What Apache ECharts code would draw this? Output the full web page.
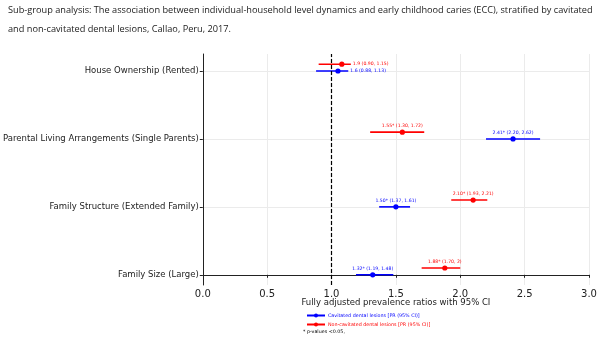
<!DOCTYPE html>
<html>
<head>
<meta charset="utf-8">
<script src="https://cdn.jsdelivr.net/npm/echarts@6/dist/echarts.min.js"></script>
<style>
  html, body { margin: 0; padding: 0; background: #fff; }
  #chart { width: 600px; height: 337px; }
</style>
</head>
<body>
<div id="chart"></div>
<script>
// rows from bottom (y=0) to top (y=3)
const categories = [
  "Family Size (Large)",
  "Family Structure (Extended Family)",
  "Parental Living Arrangements (Single Parents)",
  "House Ownership (Rented)"
];
const xTicks = [0, 0.5, 1, 1.5, 2, 2.5, 3];

const cavPR = [1.32, 1.50, 2.41, 1.05];
const cavLow = [1.19, 1.37, 2.20, 0.88];
const cavHigh = [1.48, 1.61, 2.62, 1.13];
const cavLabels = ["1.32* (1.19, 1.48)", "1.50* (1.37, 1.61)", "2.41* (2.20, 2.62)", "1.6 (0.88, 1.13)"];

const nonPR = [1.88, 2.10, 1.55, 1.08];
const nonLow = [1.70, 1.93, 1.30, 0.90];
const nonHigh = [2.00, 2.21, 1.72, 1.15];
const nonLabels = ["1.88* (1.70, 2)", "2.10* (1.93, 2.21)", "1.55* (1.30, 1.72)", "1.9 (0.90, 1.15)"];

const cavName = "Cavitated dental lesions [PR (95% CI)]";
const nonName = "Non-cavitated dental lesions [PR (95% CI)]";
const blue = "#0000ff";
const red = "#ff0000";
const sideLabelRow = 3; // house ownership labels sit right of the CI

function rows(pr, lo, hi, labels, shift) {
  return pr.map((v, i) => [v, i + shift, lo[i], hi[i], labels[i], i]);
}

function forestItem(color) {
  return function (params, api) {
    const y = api.value(1);
    const p = api.coord([api.value(0), y]);
    const a = api.coord([api.value(2), y]);
    const b = api.coord([api.value(3), y]);
    const row = api.value(5);
    const side = row === sideLabelRow;
    return {
      type: "group",
      children: [
        { type: "line", shape: { x1: a[0], y1: a[1], x2: b[0], y2: b[1] },
          style: { stroke: color, lineWidth: 1.6 } },
        { type: "circle", shape: { cx: p[0], cy: p[1], r: 2.6 },
          style: { fill: color } },
        { type: "text",
          x: side ? b[0] + 2 : p[0], y: side ? b[1] : p[1] - 4,
          style: { text: api.value(4), fill: color, fontSize: 4.6,
            fontFamily: "DejaVu Sans",
            align: side ? "left" : "center",
            verticalAlign: side ? "middle" : "bottom" } }
      ]
    };
  };
}

function legendLine(name, color) {
  return {
    name: name, type: "line", data: [], symbol: "circle", symbolSize: 5,
    itemStyle: { color: color }, lineStyle: { color: color, width: 1.6 }
  };
}

const chart = echarts.init(document.getElementById("chart"));
chart.setOption({
  animation: false,
  textStyle: { fontFamily: "DejaVu Sans" },
  title: {
    text: "Sub-group analysis: The association between individual-household level dynamics and early childhood caries (ECC), stratified by cavitated\nand non-cavitated dental lesions, Callao, Peru, 2017.",
    left: 3, top: -4,
    textStyle: { fontFamily: "Open Sans", fontSize: 9.2, fontWeight: "normal", color: "#222", lineHeight: 19 }
  },
  legend: {
    orient: "vertical", left: 301, top: 308,
    itemWidth: 18, itemHeight: 5, itemGap: 4,
    data: [
      { name: cavName, textStyle: { color: blue } },
      { name: nonName, textStyle: { color: red } }
    ],
    textStyle: { fontSize: 4.8, padding: [0, 0, 0, -2] }
  },
  graphic: [{
    type: "text", left: 303, top: 329,
    style: { text: "* p-values <0.05,", fontSize: 4.8, fill: "#000", fontFamily: "DejaVu Sans" }
  }],
  grid: { left: 202, right: 11, top: 54, bottom: 52 },
  xAxis: {
    type: "value", min: 0, max: 3, interval: 0.5,
    name: "Fully adjusted prevalence ratios with 95% CI",
    nameLocation: "middle", nameGap: 13, nameMoveOverlap: false,
    nameTextStyle: { fontSize: 8.5, color: "#222" },
    axisLine: { lineStyle: { color: "#222", width: 1 } },
    axisTick: { show: true, length: 3, lineStyle: { color: "#222" } },
    axisLabel: { fontSize: 10, color: "#222", margin: 4, formatter: v => v.toFixed(1),
      customValues: xTicks },
    splitLine: { lineStyle: { color: "#ebebeb", width: 1 } }
  },
  yAxis: {
    type: "value", min: -0.15, max: 3.25,
    axisLine: { show: true, lineStyle: { color: "#222", width: 1 } },
    axisTick: { show: true, length: 3, lineStyle: { color: "#222" }, customValues: [0, 1, 2, 3] },
    axisLabel: { fontSize: 8.5, color: "#222", margin: 4,
      customValues: [0, 1, 2, 3], formatter: v => categories[v] },
    splitLine: { show: true, lineStyle: { color: "#ebebeb", width: 1 }, customValues: [0, 1, 2, 3] }
  },
  series: [
    legendLine(cavName, blue),
    legendLine(nonName, red),
    {
      name: "cavitated", type: "custom",
      renderItem: forestItem(blue),
      data: rows(cavPR, cavLow, cavHigh, cavLabels, 0),
      encode: { x: [0, 2, 3], y: 1 },
      markLine: {
        silent: true, symbol: "none", label: { show: false },
        lineStyle: { color: "#000", type: [4, 2], width: 1.2 },
        data: [{ xAxis: 1 }]
      }
    },
    {
      name: "non-cavitated", type: "custom",
      renderItem: forestItem(red),
      data: rows(nonPR, nonLow, nonHigh, nonLabels, 0.1),
      encode: { x: [0, 2, 3], y: 1 }
    }
  ]
});
</script>
</body>
</html>
